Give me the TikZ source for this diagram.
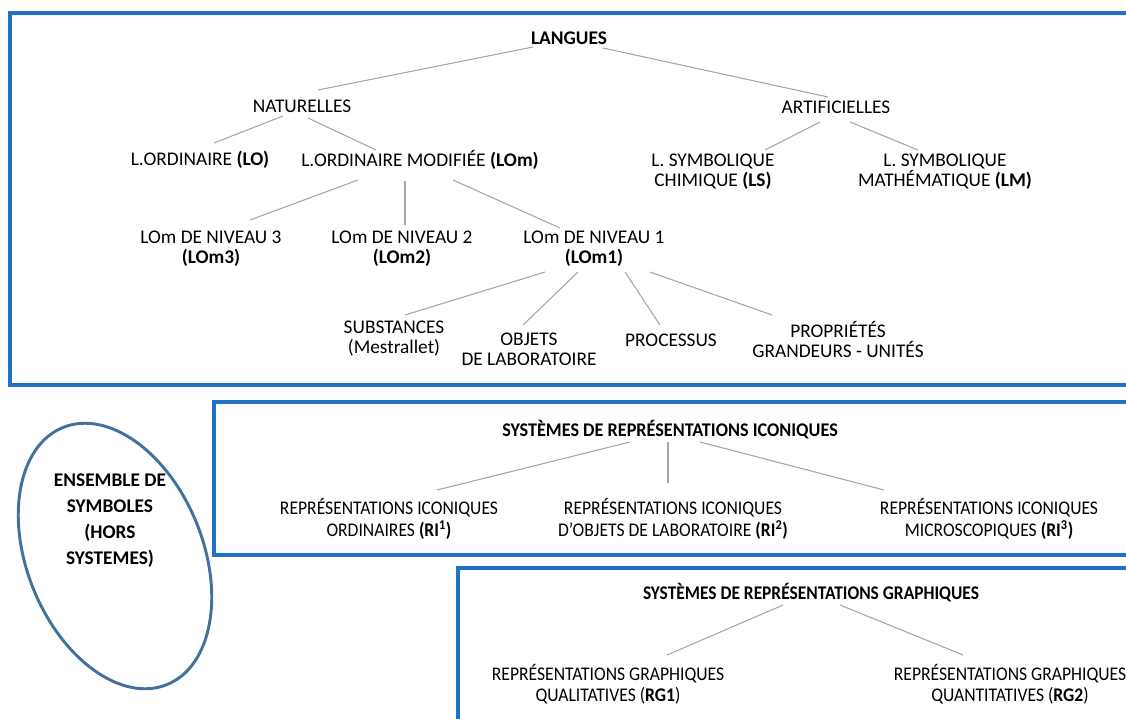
\documentclass[tikz,border=0pt]{standalone}
\usepackage{fontspec}
\setmainfont{Carlito}
\newfontfamily\condA[FakeStretch=0.91]{Carlito}
\newfontfamily\condT[FakeStretch=0.94]{Carlito}
\newfontfamily\condG[FakeStretch=0.90]{Carlito}
\definecolor{boxblue}{HTML}{1F72C4}
\definecolor{ellblue}{HTML}{41719C}
\definecolor{conngray}{HTML}{A6A6A6}
\newcommand{\myconn}[4]{\draw[connline] ([shift={#2}]#1.center) -- ([shift={#4}]#3.center);}
\begin{document}
\begin{tikzpicture}[x=0.75pt,y=-0.75pt,
  lbl/.style={align=center,inner sep=0pt,font=\fontsize{14.5}{15}\selectfont},
  blbl/.style={lbl,font=\fontsize{14.5}{15}\selectfont\bfseries},
  clbl/.style={lbl,font=\condA\fontsize{14.5}{16}\selectfont},
  connline/.style={draw=conngray,line width=0.8pt},
  boxline/.style={draw=boxblue,line width=2.3pt}]
\useasboundingbox (0,0) rectangle (1126,718);
\clip (0,0) rectangle (1126,718);
% boxes
\draw[boxline] (1140,13) -- (10,13) -- (10,385) -- (1140,385);
\draw[boxline] (1140,402) -- (214,402) -- (214,555) -- (1140,555);
\draw[boxline] (1140,568) -- (458,568) -- (458,730);
% ellipse
\draw[draw=ellblue,line width=2.2pt,rotate around={22:(115,556)}] (115,556) ellipse [x radius=66pt, y radius=104pt];
\node[blbl,font=\fontsize{14.5}{19.5}\selectfont\bfseries] (ens) at (110,521) {ENSEMBLE DE\\SYMBOLES\\(HORS\\SYSTEMES)};
% nodes
\node[blbl] (lang) at (569,38) {LANGUES};
\node[lbl] (nat) at (302,106) {NATURELLES};
\node[lbl] (art) at (836,107) {ARTIFICIELLES};
\node[lbl] (lo) at (200,160) {L.ORDINAIRE \textbf{(LO)}};
\node[lbl] (lom) at (420,160) {L.ORDINAIRE MODIFIÉE \textbf{(LOm)}};
\node[lbl] (ls) at (713,172) {L. SYMBOLIQUE\\CHIMIQUE \textbf{(LS)}};
\node[lbl] (lm) at (945,172) {L. SYMBOLIQUE\\MATHÉMATIQUE \textbf{(LM)}};
\node[lbl] (lom3) at (211,249) {LOm DE NIVEAU 3\\\textbf{(LOm3)}};
\node[lbl] (lom2) at (402,249) {LOm DE NIVEAU 2\\\textbf{(LOm2)}};
\node[lbl] (lom1) at (594,249) {LOm DE NIVEAU 1\\\textbf{(LOm1)}};
\node[lbl] (sub) at (394,339) {SUBSTANCES\\(Mestrallet)};
\node[lbl] (obj) at (529,349) {OBJETS\\DE LABORATOIRE};
\node[lbl] (proc) at (671,340) {PROCESSUS};
\node[lbl] (prop) at (838,339) {PROPRIÉTÉS\\GRANDEURS - UNITÉS};
\node[blbl,font=\condT\fontsize{14.5}{15}\selectfont\bfseries] (ico) at (670,430) {SYSTÈMES DE REPRÉSENTATIONS ICONIQUES};
\node[clbl] (ri1) at (389,519) {REPRÉSENTATIONS ICONIQUES\\ORDINAIRES \textbf{(RI\textsuperscript{1})}};
\node[clbl] (ri2) at (673,519) {REPRÉSENTATIONS ICONIQUES\\D’OBJETS DE LABORATOIRE \textbf{(RI\textsuperscript{2})}};
\node[clbl] (ri3) at (989,519) {REPRÉSENTATIONS ICONIQUES\\MICROSCOPIQUES \textbf{(RI\textsuperscript{3})}};
\node[blbl,font=\condG\fontsize{14.5}{15}\selectfont\bfseries] (gra) at (811,593) {SYSTÈMES DE REPRÉSENTATIONS GRAPHIQUES};
\node[clbl] (rg1) at (608,684) {REPRÉSENTATIONS GRAPHIQUES\\QUALITATIVES (\textbf{RG1})};
\node[clbl] (rg2) at (1010,684) {REPRÉSENTATIONS GRAPHIQUES\\QUANTITATIVES (\textbf{RG2})};
% connectors
\myconn{lang}{(-36,9)}{nat}{(16,-16)}
\myconn{lang}{(34,10)}{art}{(-8,-10)}
\myconn{nat}{(-19,10)}{lo}{(14,-17)}
\myconn{nat}{(6,12)}{lom}{(-44,-10)}
\myconn{art}{(-16,15)}{ls}{(52,-22)}
\myconn{art}{(14,15)}{lm}{(-27,-22)}
\myconn{lom}{(-62,20)}{lom3}{(39,-29)}
\myconn{lom}{(-15,21)}{lom2}{(3,-24)}
\myconn{lom}{(33,20)}{lom1}{(-34,-21)}
\myconn{lom1}{(-49,23)}{sub}{(11,-24)}
\myconn{lom1}{(-16,23)}{obj}{(-6,-24)}
\myconn{lom1}{(31,23)}{proc}{(-11,-15)}
\myconn{lom1}{(56,23)}{prop}{(-66,-24)}
\myconn{ico}{(-40,12)}{ri1}{(48,-29)}
\myconn{ico}{(-2,12)}{ri2}{(-5,-36)}
\myconn{ico}{(30,12)}{ri3}{(-105,-29)}
\myconn{gra}{(-28,12)}{rg1}{(59,-29)}
\myconn{gra}{(29,12)}{rg2}{(-47,-29)}
\end{tikzpicture}
\end{document}
